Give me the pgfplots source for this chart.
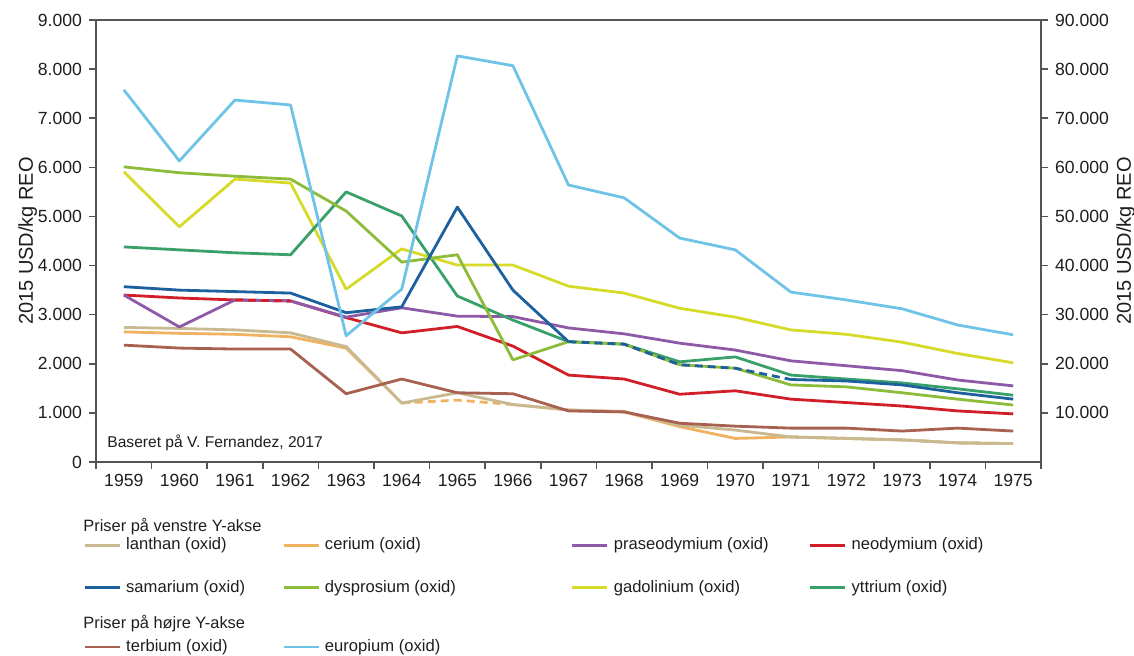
\documentclass[border=0pt]{standalone}
\usepackage{fontspec}
\setmainfont{Liberation Sans}
\usepackage{pgfplots}
\usepackage{pgfplotstable}
\pgfplotsset{compat=1.18}

\definecolor{cLa}{RGB}{200,185,145}
\definecolor{cCe}{RGB}{240,178,96}
\definecolor{cPr}{RGB}{142,90,168}
\definecolor{cNd}{RGB}{210,30,40}
\definecolor{cSm}{RGB}{28,96,158}
\definecolor{cDy}{RGB}{140,188,58}
\definecolor{cGd}{RGB}{214,218,40}
\definecolor{cY}{RGB}{58,160,106}
\definecolor{cTb}{RGB}{168,96,80}
\definecolor{cEu}{RGB}{110,195,230}
\definecolor{axgrey}{RGB}{85,85,85}
\definecolor{txt}{RGB}{30,30,30}

% left-axis series (USD/kg REO); x = 0..16 for 1959..1975
\pgfplotstableread{
x  La   LaD  Ce   CeD  Pr   Nd   NdD  Sm   SmD  Dy   Gd   Y
0  2740 nan  2650 nan  3400 3400 nan  3570 nan  6010 5910 4380
1  2720 nan  2620 nan  2750 3340 nan  3500 nan  5890 4790 4320
2  2690 nan  2600 nan  3300 3300 3300 3470 nan  5820 5760 4260
3  2630 nan  2550 nan  3280 3280 3280 3440 nan  5760 5680 4220
4  2350 nan  2320 nan  2950 2940 nan  3040 nan  5110 3520 5500
5  1200 nan  1200 1200 3140 2630 nan  3160 nan  4070 4340 5010
6  1410 nan  nan  1260 2970 2760 nan  5190 nan  4220 4010 3380
7  1170 nan  1170 1170 2960 2360 nan  3500 nan  2080 4010 2890
8  1060 nan  1060 nan  2730 1770 nan  2450 2450 2450 3580 2450
9  1030 nan  1020 nan  2610 1690 nan  nan  2400 2400 3440 2400
10 750  nan  720  nan  2420 1380 nan  nan  1980 1980 3130 2040
11 650  nan  480  nan  2280 1450 nan  nan  1910 1910 2950 2140
12 510  510  510  nan  2060 1280 nan  1680 1680 1570 2690 1770
13 480  480  480  nan  1960 1210 nan  1650 nan  1530 2600 1690
14 450  450  450  nan  1860 1140 nan  1570 nan  1410 2440 1610
15 390  390  390  nan  1670 1040 nan  1410 nan  1280 2210 1490
16 375  375  375  nan  1550 980  nan  1280 nan  1160 2020 1360
}\leftdata

% right-axis series (USD/kg REO)
\pgfplotstableread{
x  Tb    Eu
0  23800 75800
1  23200 61300
2  23000 73700
3  23000 72700
4  13900 25700
5  16900 35200
6  14100 82700
7  13900 80700
8  10400 56400
9  10200 53800
10 7900  45600
11 7300  43200
12 6900  34600
13 6900  33000
14 6300  31200
15 6900  27900
16 6300  25900
}\rightdata

\pgfplotsset{
  common/.style={
    at={(48pt,96.5pt)}, anchor=south west,
    scale only axis, width=472.5pt, height=221pt,
    xmin=-0.5, xmax=16.5,
    unbounded coords=jump,
    tick align=outside,
    major tick length=3.5pt, minor tick length=3.5pt,
    axis line style={axgrey, line width=0.9pt},
    every tick/.style={axgrey, line width=0.8pt},
    scaled y ticks=false,
    yticklabel style={font=\fontsize{8.8}{10}\selectfont, text=txt,
      /pgf/number format/1000 sep={.},
      /pgf/number format/assume math mode=true},
    every axis plot/.append style={line width=1.4pt, line join=round, no markers},
    legend columns=4,
    legend cell align=left,
    legend image code/.code={\draw[##1] (0pt,0pt) -- (17.5pt,0pt);},
  },
  legst/.style={
    legend style={draw=none, fill=none, inner sep=0pt,
      font=\fontsize{8.3}{10}\selectfont, text=txt,
      nodes={inner sep=0pt},
      row sep=13.8pt,
      /tikz/every odd column/.append style={column sep=2.5pt}},
  },
}

\begin{document}
\begin{tikzpicture}
\path[use as bounding box] (0,0) rectangle (567pt,327.5pt);

\begin{axis}[common, legst,
  ymin=0, ymax=9000,
  ytick={0,1000,...,9000},
  xtick={0,...,16},
  xticklabels={1959,1960,1961,1962,1963,1964,1965,1966,1967,1968,1969,1970,1971,1972,1973,1974,1975},
  minor xtick={-0.5,0.5,...,16.5},
  major x tick style={draw=none},
  xtick pos=bottom, ytick pos=left,
  xticklabel style={font=\fontsize{8.8}{10}\selectfont, text=txt, yshift=1pt},
  ylabel={2015 USD/kg REO},
  every axis y label/.style={at={(axis description cs:-0.0667,0.5)}, rotate=90, anchor=base, font=\fontsize{10}{12}\selectfont, text=txt},
  legend style={at={(-0.01376,-0.2364)}, anchor=west},
]
\addplot[cCe, forget plot] table[x=x, y=Ce] {\leftdata};
\addplot[cCe, dash pattern=on 4pt off 2.5pt, forget plot] table[x=x, y=CeD] {\leftdata};
\addplot[cLa, forget plot] table[x=x, y=La] {\leftdata};
\addplot[cLa, dash pattern=on 4pt off 2.5pt, forget plot] table[x=x, y=LaD] {\leftdata};
\addplot[cNd, forget plot] table[x=x, y=Nd] {\leftdata};
\addplot[cPr, forget plot] table[x=x, y=Pr] {\leftdata};
\addplot[cNd, dash pattern=on 4pt off 2.5pt, forget plot] table[x=x, y=NdD] {\leftdata};
\addplot[cGd, forget plot] table[x=x, y=Gd] {\leftdata};
\addplot[cY, forget plot] table[x=x, y=Y] {\leftdata};
\addplot[cDy, forget plot] table[x=x, y=Dy] {\leftdata};
\addplot[cSm, forget plot] table[x=x, y=Sm] {\leftdata};
\addplot[cSm, dash pattern=on 4pt off 2.5pt, forget plot] table[x=x, y=SmD] {\leftdata};

\addlegendimage{cLa, line width=1.4pt}
\addlegendentry{\makebox[78pt][l]{lanthan (oxid)}}
\addlegendimage{cCe, line width=1.4pt}
\addlegendentry{\makebox[123pt][l]{cerium (oxid)}}
\addlegendimage{cPr, line width=1.4pt}
\addlegendentry{\makebox[97.5pt][l]{praseodymium (oxid)}}
\addlegendimage{cNd, line width=1.4pt}
\addlegendentry{neodymium (oxid)}
\addlegendimage{cSm, line width=1.4pt}
\addlegendentry{\makebox[78pt][l]{samarium (oxid)}}
\addlegendimage{cDy, line width=1.4pt}
\addlegendentry{\makebox[123pt][l]{dysprosium (oxid)}}
\addlegendimage{cGd, line width=1.4pt}
\addlegendentry{\makebox[97.5pt][l]{gadolinium (oxid)}}
\addlegendimage{cY, line width=1.4pt}
\addlegendentry{yttrium (oxid)}
\end{axis}

\begin{axis}[common, legst,
  ymin=0, ymax=90000,
  ytick={10000,20000,...,90000},
  axis x line=none, axis y line*=right,
  ylabel={2015 USD/kg REO},
  every axis y label/.style={at={(axis description cs:1.0952,0.5)}, rotate=90, anchor=base, font=\fontsize{10}{12}\selectfont, text=txt},
  legend style={at={(-0.01376,-0.4186)}, anchor=west},
]
\addplot[cTb, forget plot] table[x=x, y=Tb] {\rightdata};
\addplot[cEu, forget plot] table[x=x, y=Eu] {\rightdata};
\addlegendimage{cTb, line width=1.4pt}
\addlegendentry{\makebox[78pt][l]{terbium (oxid)}}
\addlegendimage{cEu, line width=1.4pt}
\addlegendentry{europium (oxid)}
\end{axis}

\node[anchor=west, inner sep=0pt, font=\fontsize{7.8}{9}\selectfont, text=txt] at (53.5pt,106pt) {Baseret på V. Fernandez, 2017};
\node[anchor=west, inner sep=0pt, font=\fontsize{8.2}{10}\selectfont, text=txt] at (41.5pt,64pt) {Priser på venstre Y-akse};
\node[anchor=west, inner sep=0pt, font=\fontsize{8.2}{10}\selectfont, text=txt] at (41.5pt,15.5pt) {Priser på højre Y-akse};
\end{tikzpicture}
\end{document}
